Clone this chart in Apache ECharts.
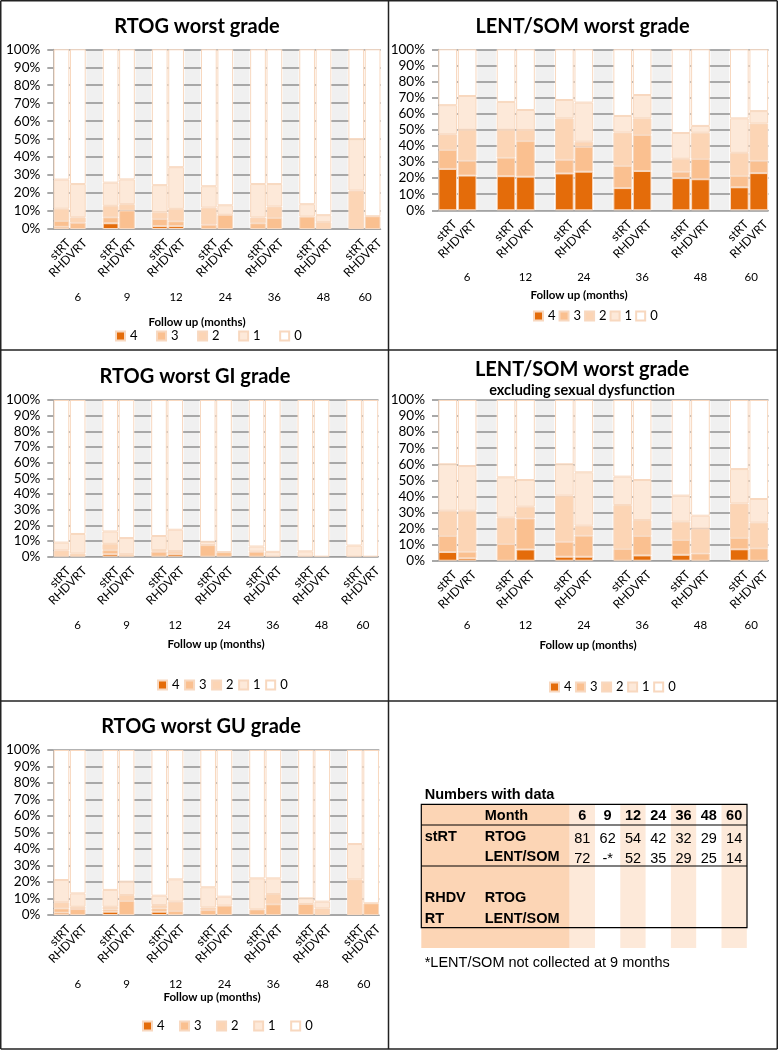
<!DOCTYPE html>
<html>
<head>
<meta charset="utf-8">
<script src="https://cdn.jsdelivr.net/npm/echarts@6/dist/echarts.min.js"></script>
<style>
  html, body { margin: 0; padding: 0; background: #fff; }
  #chart { width: 778px; height: 1053px; }
</style>
</head>
<body>
<div id="chart"></div>
<script>
// worst grade, stacked from the bottom: 4, 3, 2, 1, 0
const grades = ['4', '3', '2', '1', '0'];
const gradeColors = ['#e46c0a', '#fac090', '#fcd5b5', '#fde9d9', '#ffffff'];

const monthsRtog = ['6', '9', '12', '24', '36', '48', '60'];
const monthsLent = ['6', '12', '24', '36', '48', '60'];

// % of patients per month, [grade 4, grade 3, grade 2, grade 1] (grade 0 = the rest)
const rtogStRT = [
  [1.2, 3.3, 6.8, 16.2], [3.2, 3.3, 6.4, 12.9], [1.6, 4.0, 3.7, 15.1], [0, 2.4, 9.5, 11.9],
  [0, 3.2, 3.2, 18.6], [0, 6.9, 0, 6.9], [0, 0, 21.4, 28.6]
];
const rtogRHDVRT = [
  [0, 3.5, 3.0, 18.5], [0, 10.3, 3.5, 13.8], [1.6, 2.7, 6.9, 23.2], [0, 7.9, 0, 5.3],
  [0, 6.2, 6.3, 12.5], [0, 0, 3.8, 3.9], [0, 7.1, 0, 0]
];
const lentStRT = [
  [25.7, 11.8, 9.7, 18.1], [21.2, 11.5, 17.3, 17.3], [22.9, 8.5, 25.7, 11.4],
  [13.8, 13.8, 20.7, 10.3], [20.0, 4.0, 8.0, 16.0], [14.3, 7.1, 14.3, 21.4]
];
const lentRHDVRT = [
  [21.6, 9.2, 19.2, 21.0], [20.9, 22.1, 6.9, 12.4], [24.0, 15.5, 3.1, 24.3],
  [24.4, 22.4, 10.3, 14.5], [19.3, 12.6, 16.3, 4.2], [23.1, 7.7, 23.1, 7.7]
];
const giStRT = [
  [0, 0, 4.0, 5.0], [1.6, 2.6, 4.0, 7.9], [0, 3.2, 1.0, 9.0], [0, 7.4, 0, 2.1],
  [0, 3.2, 0, 3.3], [0, 0, 0, 3.4], [0, 0, 0, 7.1]
];
const giRHDVRT = [
  [0, 0, 2.0, 12.5], [0, 0, 1.6, 10.3], [1.6, 0, 2.0, 13.6], [0, 2.9, 0, 0],
  [0, 0, 0, 3.1], [0, 0, 0, 0], [0, 0, 0, 0]
];
const lentExStRT = [
  [5.4, 10.0, 15.7, 28.9], [0, 10.4, 16.4, 25.1], [2.5, 9.3, 28.7, 19.5],
  [0, 7.3, 27.3, 17.7], [3.7, 9.2, 11.4, 16.2], [7.1, 7.1, 21.4, 21.4]
];
const lentExRHDVRT = [
  [1.5, 4.1, 25.5, 27.8], [7.0, 19.3, 7.3, 16.6], [2.5, 13.1, 6.2, 33.2],
  [3.3, 12.1, 9.9, 24.9], [0, 4.5, 15.5, 8.0], [0, 7.7, 16.0, 14.7]
];
const guStRT = [
  [1.4, 2.6, 3.7, 13.5], [2.0, 1.4, 1.6, 10.2], [2.0, 2.0, 2.0, 5.7], [0, 3.0, 1.6, 12.2],
  [0, 3.4, 0, 18.8], [0, 6.7, 0, 3.4], [0, 0, 21.6, 21.4]
];
const guRHDVRT = [
  [0, 3.6, 1.4, 8.1], [0, 8.5, 3.6, 8.1], [0, 2.4, 5.7, 13.5], [0, 5.7, 0, 5.4],
  [0, 6.5, 6.2, 9.5], [0, 0, 4.0, 4.1], [0, 7.1, 0, 0]
];

// numbers with data table
const tableMonths = ['6', '9', '12', '24', '36', '48', '60'];
const nStRTRtog = ['81', '62', '54', '42', '32', '29', '14'];
const nStRTLent = ['72', '-*', '52', '35', '29', '25', '14'];

const FONT = 'Lato';
const TFONT = 'Liberation Sans';

const panels = [
  { title: 'RTOG worst grade', months: monthsRtog, st: rtogStRT, rh: rtogRHDVRT,
    grid: { left: 53.3, top: 49.3, width: 327.5, height: 179.7 },
    titleX: 197, titleY: 26.5, followX: 197, followY: 322, monthMargin: 62,
    legendX: 115, legendY: 336, legendGap: 18.5 },
  { title: 'LENT/SOM worst grade', months: monthsLent, st: lentStRT, rh: lentRHDVRT,
    grid: { left: 438, top: 49.3, width: 330.5, height: 161 },
    titleX: 582.5, titleY: 26.5, followX: 579, followY: 295, monthMargin: 61,
    legendX: 533, legendY: 316, legendGap: 3 },
  { title: 'RTOG worst GI grade', months: monthsRtog, st: giStRT, rh: giRHDVRT,
    grid: { left: 53.3, top: 400, width: 325.2, height: 156.7 },
    titleX: 195, titleY: 376.5, followX: 216, followY: 644, monthMargin: 63,
    legendX: 157, legendY: 685, legendGap: 4.5 },
  { title: 'LENT/SOM worst grade', sub: 'excluding sexual dysfunction', months: monthsLent,
    st: lentExStRT, rh: lentExRHDVRT,
    grid: { left: 438, top: 400, width: 330.5, height: 160.7 },
    titleX: 582, titleY: 369.5, followX: 588, followY: 645, monthMargin: 59,
    legendX: 549, legendY: 687, legendGap: 3.5 },
  { title: 'RTOG worst GU grade', months: monthsRtog, st: guStRT, rh: guRHDVRT,
    grid: { left: 53.3, top: 750, width: 326, height: 165 },
    titleX: 201, titleY: 726.5, followX: 212, followY: 997.5, monthMargin: 63,
    legendX: 142, legendY: 1026, legendGap: 14.5 }
];

const grids = [], xAxes = [], yAxes = [], series = [], legends = [], graphics = [];

panels.forEach((p, i) => {
  const cats = [];
  p.months.forEach((m, j) => {
    cats.push('stRT_' + m, 'RHDVRT_' + m);
    if (j < p.months.length - 1) cats.push('gap_' + m);
  });
  const lastIdx = cats.length - 1;

  grids.push(Object.assign({ containLabel: false }, p.grid));

  xAxes.push({
    type: 'category', gridIndex: i, data: cats,
    axisLine: { lineStyle: { color: '#a6a6a6', width: 1 } },
    axisTick: { show: false },
    axisLabel: {
      interval: 0, rotate: 45, margin: 5, verticalAlign: 'top', lineHeight: 20,
      fontFamily: FONT, fontSize: 12, color: '#000',
      formatter: v => v.startsWith('gap') ? '' : v.split('_')[0]
    }
  });
  xAxes.push({
    type: 'category', gridIndex: i, data: cats, position: 'bottom',
    axisLine: { show: false }, axisTick: { show: false },
    axisLabel: {
      interval: 0, margin: p.monthMargin, fontFamily: FONT, fontSize: 11.5, color: '#000',
      formatter: (v, idx) => {
        if (idx % 3 !== 1) return '';
        const m = v.split('_')[1];
        return idx === lastIdx ? '{s|' + m + '}' : m;
      },
      rich: { s: { fontFamily: FONT, fontSize: 11.5, color: '#000', padding: [0, 15, 0, 0] } }
    }
  });
  yAxes.push({
    type: 'value', gridIndex: i, min: 0, max: 100, interval: 10,
    axisLine: { show: true, lineStyle: { color: '#a6a6a6', width: 1 } },
    axisTick: { show: true, length: 6, lineStyle: { color: '#8c8c8c', width: 1.5 } },
    axisLabel: { formatter: '{value}%', margin: 13, fontFamily: FONT, fontSize: 13.5, color: '#000' },
    splitLine: { show: true, lineStyle: { color: '#9a9a9a', width: 1.5 } }
  });

  grades.forEach((g, k) => {
    const data = cats.map(c => {
      const [arm, m] = c.split('_');
      if (arm === 'gap') return '-';
      const row = (arm === 'stRT' ? p.st : p.rh)[p.months.indexOf(m)];
      const v = k < 4 ? row[k] : 100 - row.reduce((a, b) => a + b, 0);
      return v > 0 ? +v.toFixed(2) : '-';
    });
    series.push({
      name: g, type: 'bar', stack: 'p' + i, xAxisIndex: 2 * i, yAxisIndex: i,
      barCategoryGap: '4%', data,
      itemStyle: { color: gradeColors[k], borderColor: '#f8d8bf', borderWidth: 1 },
      emphasis: { disabled: true }
    });
  });
  // grey band in the empty slot between month groups
  series.push({
    name: 'band', type: 'bar', stack: 'p' + i, xAxisIndex: 2 * i, yAxisIndex: i,
    silent: true, data: cats.map(c => c.startsWith('gap') ? 100 : '-'),
    itemStyle: { color: 'rgba(0,0,0,0.06)' }
  });

  legends.push({
    data: grades, left: p.legendX, top: p.legendY - 6.5, padding: 0,
    itemWidth: 9, itemHeight: 9, itemGap: p.legendGap, icon: 'rect',
    selectedMode: false,
    textStyle: { fontFamily: FONT, fontSize: 13, color: '#000', padding: [0, 0, 0, 0] }
  });

  graphics.push({
    type: 'text', x: p.titleX, y: p.titleY,
    style: { text: p.title, fontFamily: FONT, fontWeight: 'bold', fontSize: 20, fill: '#000',
      align: 'center', verticalAlign: 'middle' }
  });
  if (p.sub) {
    graphics.push({
      type: 'text', x: p.titleX, y: 390,
      style: { text: p.sub, fontFamily: FONT, fontWeight: 'bold', fontSize: 14.5, fill: '#000',
        align: 'center', verticalAlign: 'middle' }
    });
  }
  graphics.push({
    type: 'text', x: p.followX, y: p.followY,
    style: { text: 'Follow up (months)', fontFamily: FONT, fontWeight: 'bold', fontSize: 11.5,
      fill: '#000', align: 'center', verticalAlign: 'middle' }
  });
});

// panel frames
const frameLines = [
  [0.75, 0.75, 777.25, 0.75], [0.75, 0.75, 0.75, 1049], [777.25, 0.75, 777.25, 1049],
  [0.75, 1049, 777.25, 1049], [388.5, 0.75, 388.5, 1049],
  [0.75, 350, 777.25, 350], [0.75, 701, 777.25, 701]
];
frameLines.forEach(l => graphics.push({
  type: 'line', shape: { x1: l[0], y1: l[1], x2: l[2], y2: l[3] },
  style: { stroke: '#222', lineWidth: 1.5 }
}));

// numbers with data table
const tL = 421.3, tT = 804.3, tR = 747, tB = 927.7, shadeB = 948;
const colL = 569.7, colW = 25.3;
graphics.push({ type: 'rect', shape: { x: tL, y: tT, width: colL - tL, height: shadeB - tT },
  style: { fill: '#fcd5b5' } });
tableMonths.forEach((m, i) => {
  if (i % 2 === 0) {
    graphics.push({ type: 'rect', shape: { x: colL + i * colW, y: tT, width: colW, height: shadeB - tT },
      style: { fill: '#fde9d9' } });
  }
});
graphics.push({ type: 'rect', shape: { x: tL, y: tT, width: tR - tL, height: tB - tT },
  style: { fill: 'none', stroke: '#000', lineWidth: 1.2 } });
[825, 866].forEach(y => graphics.push({
  type: 'line', shape: { x1: tL, y1: y, x2: tR, y2: y }, style: { stroke: '#000', lineWidth: 1.2 }
}));

function tText(text, x, y, bold, align) {
  graphics.push({
    type: 'text', x, y,
    style: { text, fontFamily: TFONT, fontWeight: bold ? 'bold' : 'normal', fontSize: 14.5,
      fill: '#000', align: align || 'left', verticalAlign: 'middle' }
  });
}
tText('Numbers with data', 424.7, 795, true);
tText('Month', 484.7, 815.5, true);
tText('stRT', 424.7, 837, true);
tText('RTOG', 484.7, 837, true);
tText('LENT/SOM', 484.7, 857, true);
tText('RHDV', 424.7, 897.5, true);
tText('RTOG', 484.7, 897.5, true);
tText('RT', 424.7, 918.5, true);
tText('LENT/SOM', 484.7, 918.5, true);
tableMonths.forEach((m, i) => {
  const cx = colL + colW * (i + 0.5);
  tText(m, cx, 815.5, true, 'center');
  tText(nStRTRtog[i], cx, 838.5, false, 'center');
  tText(nStRTLent[i], cx, 858.5, false, 'center');
});
tText('*LENT/SOM not collected at 9 months', 424.7, 963, false);

const chart = echarts.init(document.getElementById('chart'), null, { renderer: 'canvas' });
chart.setOption({
  animation: false,
  backgroundColor: '#fff',
  grid: grids,
  xAxis: xAxes,
  yAxis: yAxes,
  legend: legends,
  series,
  graphic: graphics
});
</script>
</body>
</html>
